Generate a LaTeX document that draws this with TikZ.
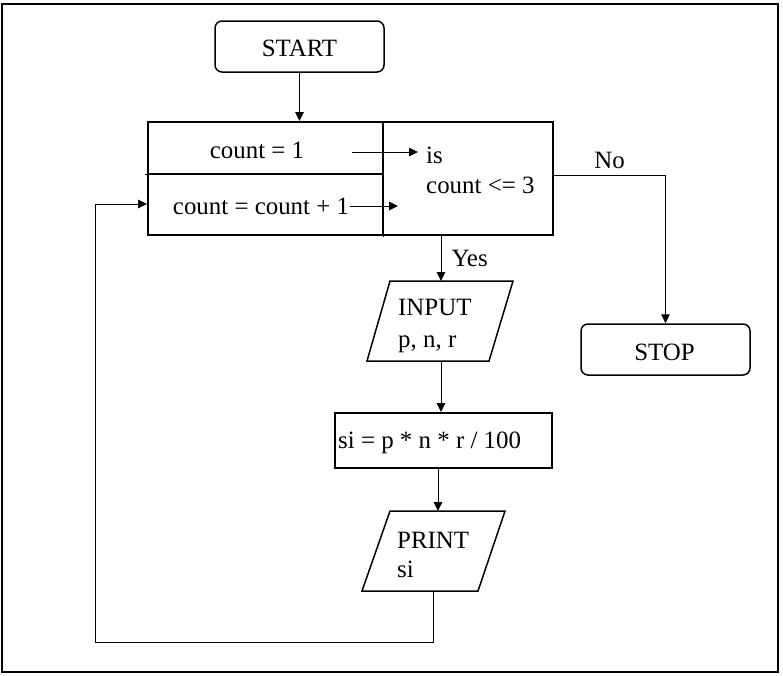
\documentclass[tikz,border=0pt]{standalone}
\usepackage{fontspec}
\setmainfont{Liberation Serif}
\usetikzlibrary{arrows.meta,positioning,calc}

\tikzset{
  flow/.style={-{Triangle[length=9pt,width=8.5pt]}, line width=1pt},
  blk/.style={draw, line width=1.5pt, inner sep=0pt},
  term/.style={blk, rounded corners=7pt, minimum width=169pt, minimum height=51pt},
  lbl/.style={inner sep=0pt}
}

\begin{document}
\begin{tikzpicture}[x=1pt, y=-1pt, font=\fontsize{24.9}{30}\selectfont]
    \useasboundingbox (0,0) rectangle (783,675);
    \draw[line width=1.8pt] (2,4) rectangle (778,672);

    % terminals
    \node[term] (start) at (299.5,46.5) {};
    \node[lbl, anchor=base] (startlbl) at (299.5,56) {START};
    \node[term] (stop) at (665.5,349.5) {};
    \node[lbl, anchor=base] (stoplbl) at (664.5,360) {STOP};

    % loop block: init / increment / test
    \node[blk, anchor=north west, minimum width=235pt, minimum height=52pt] (init) at (147,121) {};
    \node[blk, anchor=north west, minimum width=235pt, minimum height=61pt] (incr) at (147,173) {};
    \node[blk, anchor=north west, minimum width=170pt, minimum height=113pt] (test) at (382,121) {};
    \draw[blk] (init.north east) -- ++(0,116);
    \draw[blk] (init.south west) -- ++(-2,0);

    \node[lbl, anchor=base] (initlbl) at (257,158) {count = 1};
    \node[lbl, anchor=base] (incrlbl) at (261,214) {count = count + 1};
    \node[lbl, anchor=base west] (testlbl) at (426,163) {is};
    \node[lbl, anchor=base west] (testlblb) at (426,193) {count <= 3};

    \coordinate (a1) at (352,152);
    \coordinate (a2) at (350,206);
    \draw[flow] (a1) -- (418,152);
    \draw[flow] (a2) -- (398,206);

    % input
    \coordinate (inptop) at (441,281);
    \coordinate (inpbot) at (441,361);
    \draw[blk] (390,281) -- (513,281) -- (489,361) -- (367,361) -- cycle;
    \node[lbl, anchor=base west] (inplbl) at (398,315) {INPUT};
    \node[lbl, anchor=base west] (inplblb) at (398,347) {p, n, r};

    % calculation
    \node[blk, anchor=north west, minimum width=217pt, minimum height=55pt] (calc) at (334,412) {};
    \node[lbl, anchor=base west] (calclbl) at (338,448) {si = p * n * r / 100};

    % print
    \coordinate (outtop) at (438,511);
    \coordinate (outbot) at (433,591);
    \draw[blk] (390,511) -- (505,511) -- (478,591) -- (362,591) -- cycle;
    \node[lbl, anchor=base west] (outlbl) at (397,548) {PRINT};
    \node[lbl, anchor=base west] (outlblb) at (397,577) {si};

    % connectors
    \draw[flow] (start) -- (start|-init.north);
    \draw[flow] (test.south-|inptop) -- (inptop) node[lbl, pos=0.5, right=10pt] (yes) {Yes};
    \draw[flow] (test.east|-0,175) -| (stop.north) node[lbl, pos=0.25, above=6pt] (no) {No};
    \draw[flow] (inpbot) -- (inpbot|-calc.north);
    \draw[flow] (calc.south-|outtop) -- (outtop);
    \draw[flow] (outbot) -- (433,642) -- (95,642) -- (95,204) -- (incr.west|-0,204);
\end{tikzpicture}
\end{document}
